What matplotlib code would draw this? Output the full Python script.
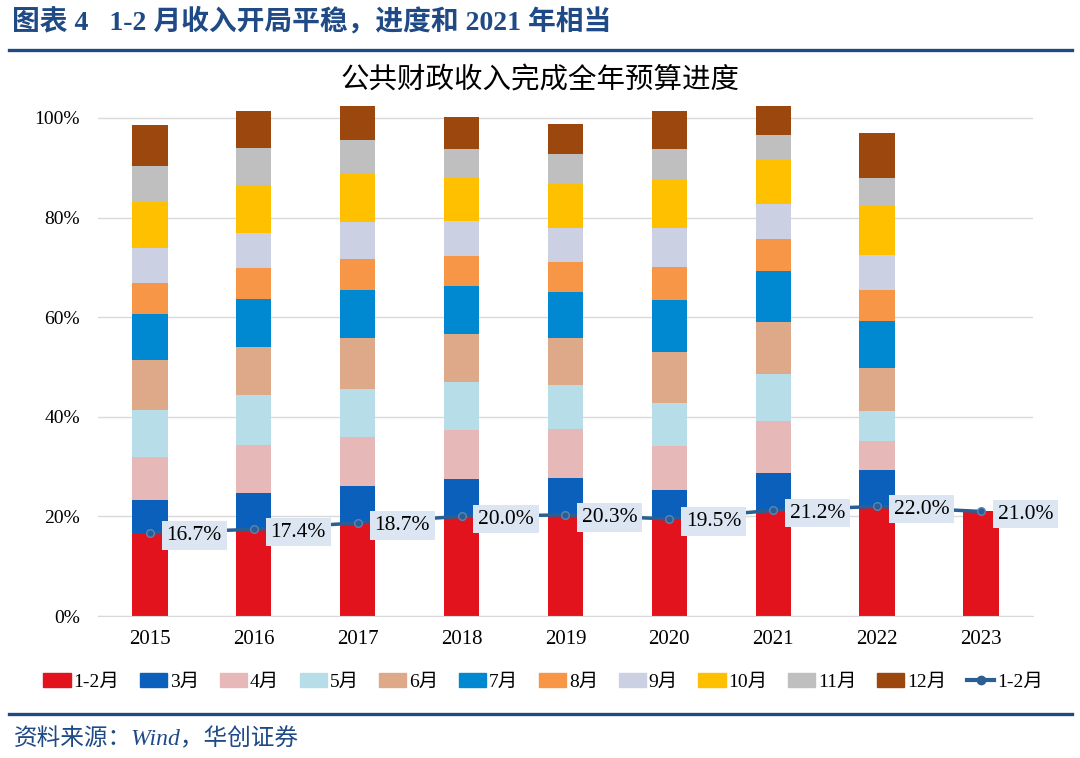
import matplotlib
matplotlib.use('Agg')
import matplotlib.pyplot as plt
import numpy as np
from matplotlib.lines import Line2D
from matplotlib.patches import Patch

plt.rcParams['font.family'] = ['Liberation Serif', 'Noto Sans CJK SC', 'DejaVu Sans']

years = ['2015', '2016', '2017', '2018', '2019', '2020', '2021', '2022', '2023']
months = ['1-2月', '3月', '4月', '5月', '6月', '7月', '8月', '9月', '10月', '11月', '12月']

# monthly share of full-year budget, percent
shares = {
    '1-2月': [16.7, 17.4, 18.7, 20.0, 20.3, 19.5, 21.2, 22.0, 21.0],
    '3月':   [6.6, 7.2, 7.5, 7.5, 7.5, 5.8, 7.6, 7.3, 0],
    '4月':   [8.7, 9.8, 9.7, 9.9, 9.8, 8.9, 10.3, 5.8, 0],
    '5月':   [9.3, 9.9, 9.7, 9.6, 8.8, 8.6, 9.5, 6.0, 0],
    '6月':   [10.0, 9.8, 10.2, 9.7, 9.4, 10.3, 10.4, 8.7, 0],
    '7月':   [9.3, 9.5, 9.7, 9.5, 9.3, 10.4, 10.3, 9.4, 0],
    '8月':   [6.3, 6.2, 6.1, 6.0, 6.0, 6.6, 6.3, 6.3, 0],
    '9月':   [6.9, 7.0, 7.6, 7.2, 6.8, 7.8, 7.1, 7.0, 0],
    '10月':  [9.4, 9.8, 9.7, 8.6, 8.9, 9.7, 8.9, 9.8, 0],
    '11月':  [7.1, 7.4, 6.7, 5.7, 5.9, 6.1, 4.9, 5.7, 0],
    '12月':  [8.3, 7.4, 6.8, 6.4, 6.1, 7.7, 5.9, 8.9, 0],
}
line_values = [16.7, 17.4, 18.7, 20.0, 20.3, 19.5, 21.2, 22.0, 21.0]

colors = ['#E3131E', '#0A60BA', '#E6B9B8', '#B7DEE8', '#DDA989', '#0088D0',
          '#F79646', '#CBD0E3', '#FFC000', '#BFBFBF', '#9C470E']
line_color = '#2B5F93'
navy = '#1F4A86'

fig = plt.figure(figsize=(10.8, 7.58), dpi=100)
ax = fig.add_axes([0.0907, 0.1873, 0.8657, 0.690])

x = np.arange(len(years))
bottom = np.zeros(len(years))
for month, color in zip(months, colors):
    vals = np.array(shares[month]) / 100
    ax.bar(x, vals, width=0.34, bottom=bottom, color=color, zorder=2, clip_on=False)
    bottom += vals

lv = np.array(line_values) / 100
ax.plot(x, lv, color=line_color, lw=2.5, marker='o', ms=5.5,
        markerfacecolor=line_color, markeredgecolor='#5A86B5', zorder=4)
for xi, v in zip(x, lv):
    ax.annotate(f'{v * 100:.1f}%', (xi, v), xytext=(12, -2), textcoords='offset points',
                ha='left', va='center', fontsize=15.5, zorder=5,
                bbox=dict(boxstyle='square,pad=0.22', fc='#DCE6F2', ec='none'))

ax.set_xlim(-0.5, len(years) - 0.5)
ax.set_ylim(0, 1.05)
ax.set_yticks(np.arange(0, 1.01, 0.2))
ax.set_yticklabels([f'{int(t * 100)}%' for t in np.arange(0, 1.01, 0.2)])
ax.set_xticks(x)
ax.set_xticklabels(years)
ax.tick_params(length=0, colors='#000000')
ax.tick_params(axis='x', pad=10, labelsize=15)
ax.tick_params(axis='y', pad=13, labelsize=14)
ax.grid(axis='y', color='#D9D9D9', lw=1, zorder=0)
for s in ['top', 'right', 'left']:
    ax.spines[s].set_visible(False)
ax.spines['bottom'].set_color('#D9D9D9')

handles = [Patch(color=c) for c in colors]
handles.append(Line2D([0], [0], color=line_color, lw=3, marker='o', ms=6))
fig.legend(handles, months + ['1-2月'], loc='center', bbox_to_anchor=(0.503, 0.100),
           ncol=12, frameon=False, fontsize=14, handlelength=1.4, handleheight=0.75,
           handletextpad=0.15, columnspacing=1.05)

# header, rules and source
fig.text(0.011, 0.972, '图表 4   1-2 月收入开局平稳，进度和 2021 年相当', fontsize=20,
         fontweight='bold', color=navy, va='center', ha='left')
fig.add_artist(Line2D([0.008, 0.993], [0.934, 0.934], color=navy, lw=2.4))
fig.text(0.5, 0.893, '公共财政收入完成全年预算进度', fontsize=20.5, ha='center', va='center')
fig.add_artist(Line2D([0.008, 0.993], [0.058, 0.058], color=navy, lw=2.4))
fig.text(0.013, 0.025, '资料来源：Wind，华创证券', fontsize=17, style='italic',
         color=navy, va='center', ha='left')

fig.savefig('out.png', dpi=100)
